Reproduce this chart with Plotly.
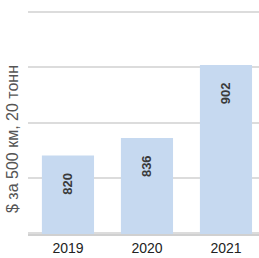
import plotly.graph_objects as go

years = ["2019", "2020", "2021"]
values = [820, 836, 902]
y_title = "$ за 500 км, 20 тонн"
grid_vals = [750, 800, 850, 900, 950]

NB = "\u00a0"
fig = go.Figure(go.Bar(
    x=years, y=values,
    marker=dict(color="#c6d9f0", line=dict(width=0)),
    width=0.66,
    text=[f"{v}" + NB * 4 for v in values],
    textposition="inside",
    insidetextanchor="end",
    textangle=-90,
    textfont=dict(family="Liberation Sans, Arial", size=13, color="#3a3a3a", weight="bold"),
    cliponaxis=False,
))

fig.update_layout(
    width=259, height=258,
    margin=dict(l=28, r=0, t=11, b=24),
    paper_bgcolor="white", plot_bgcolor="white",
    showlegend=False,
    font=dict(family="Liberation Sans, Arial", color="#222"),
    xaxis=dict(
        type="category", range=[-0.506, 2.418],
        showgrid=False, showline=True, linecolor="#d0d0d0", linewidth=2,
        ticks="", tickfont=dict(size=14, color="#222"),
        fixedrange=True,
    ),
    yaxis=dict(
        range=[749, 951], tickmode="array", tickvals=grid_vals,
        showgrid=True, gridcolor="#dcdcdc", gridwidth=2,
        showticklabels=False, zeroline=False, ticks="",
        fixedrange=True,
    ),
    annotations=[dict(
        text=y_title, textangle=-90, showarrow=False,
        xref="paper", yref="paper",
        x=(12 - 28) / 231, y=(234 - 139) / 223,
        xanchor="center", yanchor="middle",
        font=dict(family="Liberation Sans, Arial", size=16, color="#555"),
    )],
)

fig.write_html(
    "out.html",
    config={"displayModeBar": False, "staticPlot": True},
    post_script="document.body.style.margin='0';document.body.style.overflow='hidden';",
)
